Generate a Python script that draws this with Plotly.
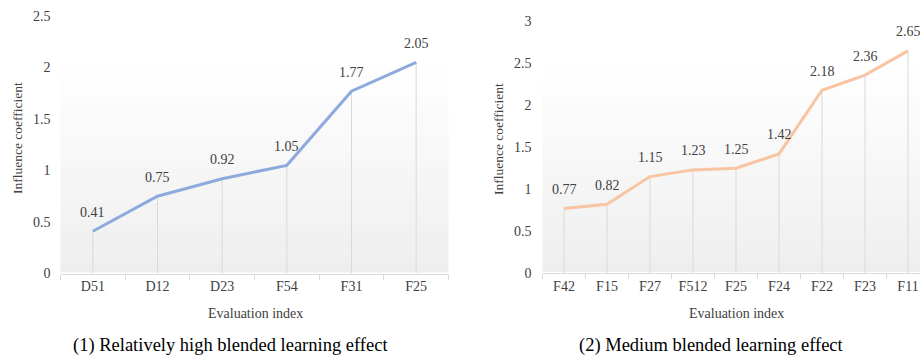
import plotly.graph_objects as go

# ---- data ----
cats_high = ["D51", "D12", "D23", "F54", "F31", "F25"]
vals_high = [0.41, 0.75, 0.92, 1.05, 1.77, 2.05]

cats_med = ["F42", "F15", "F27", "F512", "F25", "F24", "F22", "F23", "F11"]
vals_med = [0.77, 0.82, 1.15, 1.23, 1.25, 1.42, 2.18, 2.36, 2.65]

ytick_high = [0, 0.5, 1, 1.5, 2, 2.5]
ytick_high_txt = ["0", "0.5", "1", "1.5", "2", "2.5"]
ytick_med = [0, 0.5, 1, 1.5, 2, 2.5, 3]
ytick_med_txt = ["0", "0.5", "1", "1.5", "2", "2.5", "3"]

title_x = "Evaluation index"
title_y = "Influence coefficient"
sub_high = "(1) Relatively high blended learning effect"
sub_med = "(2) Medium blended learning effect"

# ---- style ----
W, H = 920, 360
FONT = "Liberation Serif, Times New Roman, serif"
TXT = "#404040"
GRID = "#d9d9d9"
BLUE = "#8EAADC"
ORANGE = "#F8C4A2"

def px_x(p):
    return p / W

def px_y(p):
    return 1 - p / H

fig = go.Figure()

# drop lines (error bars down to zero)
fig.add_trace(go.Scatter(
    x=cats_high, y=vals_high, mode="markers", xaxis="x", yaxis="y",
    marker=dict(size=1, color="rgba(0,0,0,0)"),
    error_y=dict(type="data", symmetric=False, array=[0] * len(vals_high),
                 arrayminus=vals_high, color=GRID, thickness=1, width=0),
    hoverinfo="skip", showlegend=False))
fig.add_trace(go.Scatter(
    x=cats_med, y=vals_med, mode="markers", xaxis="x2", yaxis="y2",
    marker=dict(size=1, color="rgba(0,0,0,0)"),
    error_y=dict(type="data", symmetric=False, array=[0] * len(vals_med),
                 arrayminus=vals_med, color=GRID, thickness=1, width=0),
    hoverinfo="skip", showlegend=False))

fig.add_trace(go.Scatter(x=cats_high, y=vals_high, mode="lines", xaxis="x", yaxis="y",
                         line=dict(color=BLUE, width=3), showlegend=False))
fig.add_trace(go.Scatter(x=cats_med, y=vals_med, mode="lines", xaxis="x2", yaxis="y2",
                         line=dict(color=ORANGE, width=3), showlegend=False))

# plot-area geometry (page pixels)
L1, R1 = 60.5, 448.5
L2, R2 = 542.5, 920
B1, T1 = 273.5, 16
B2, T2 = 273, 21.5

axis_x_common = dict(type="category", showline=True, linecolor=GRID, linewidth=1,
                     ticks="outside", tickson="boundaries", ticklen=5, tickcolor=GRID,
                     showgrid=False, zeroline=False, automargin=False,
                     tickfont=dict(family=FONT, size=14, color=TXT))
axis_y_common = dict(showline=False, showgrid=False, zeroline=False, ticks="",
                     automargin=False,
                     tickfont=dict(family=FONT, size=14, color=TXT))

fig.update_layout(
    template="none",
    width=W, height=H, margin=dict(l=0, r=0, t=0, b=0),
    paper_bgcolor="white", plot_bgcolor="rgba(0,0,0,0)",
    xaxis=dict(axis_x_common, domain=[px_x(L1), px_x(R1)], range=[-0.5, len(cats_high) - 0.5],
               anchor="y"),
    yaxis=dict(axis_y_common, domain=[px_y(B1), px_y(T1)], range=[0, 2.5],
               tickvals=ytick_high, ticktext=ytick_high_txt, anchor="x", ticklabelstandoff=9),
    xaxis2=dict(axis_x_common, domain=[px_x(L2), px_x(R2)],
                range=[-0.5, -0.5 + (R2 - L2) / 43.0], anchor="y2"),
    yaxis2=dict(axis_y_common, domain=[px_y(B2), px_y(T2)], range=[0, 3],
                tickvals=ytick_med, ticktext=ytick_med_txt, anchor="x2", ticklabelstandoff=10),
)

# subtle gradient background in plot areas
shapes = []
n = 24
top_px, bot1, bot2 = 60, B1 - 1, B2 - 1
for L, R, bot in [(L1, R1, bot1), (L2, R2, bot2)]:
    for i in range(n):
        y0 = top_px + (bot - top_px) * i / n
        y1 = top_px + (bot - top_px) * (i + 1) / n
        g = int(round(255 - (255 - 238) * (i + 0.5) / n))
        shapes.append(dict(type="rect", xref="paper", yref="paper",
                           x0=px_x(L), x1=px_x(R), y0=px_y(y1), y1=px_y(y0),
                           fillcolor=f"rgb({g},{g},{g})", line=dict(width=0),
                           layer="below"))
fig.update_layout(shapes=shapes)

ann = []
for c, v in zip(cats_high, vals_high):
    ann.append(dict(x=c, y=v, xref="x", yref="y", text=f"{v:.2f}", showarrow=False,
                    yshift=19, font=dict(family=FONT, size=14, color=TXT)))
for c, v in zip(cats_med, vals_med):
    ann.append(dict(x=c, y=v, xref="x2", yref="y2", text=f"{v:.2f}", showarrow=False,
                    yshift=19, font=dict(family=FONT, size=14, color=TXT)))

def paper_text(text, x, y, size, angle=0):
    return dict(text=text, x=px_x(x), y=px_y(y), xref="paper", yref="paper",
                showarrow=False, textangle=angle, xanchor="center", yanchor="middle",
                font=dict(family=FONT, size=size, color=TXT if size < 16 else "#000000"))

ann += [
    paper_text(title_x, 255, 313, 14),
    paper_text(title_x, 736.5, 313, 14),
    paper_text(title_y, 17, 138, 13.5, -90),
    paper_text(title_y, 498, 139, 13.5, -90),
    paper_text(sub_high, 230.5, 345.5, 18.5),
    paper_text(sub_med, 711.5, 345.5, 18.5),
]
fig.update_layout(annotations=ann)

fig.write_html(
    "out.html",
    config={"displayModeBar": False},
    post_script="document.body.style.margin='0';document.body.style.overflow='hidden';",
)
